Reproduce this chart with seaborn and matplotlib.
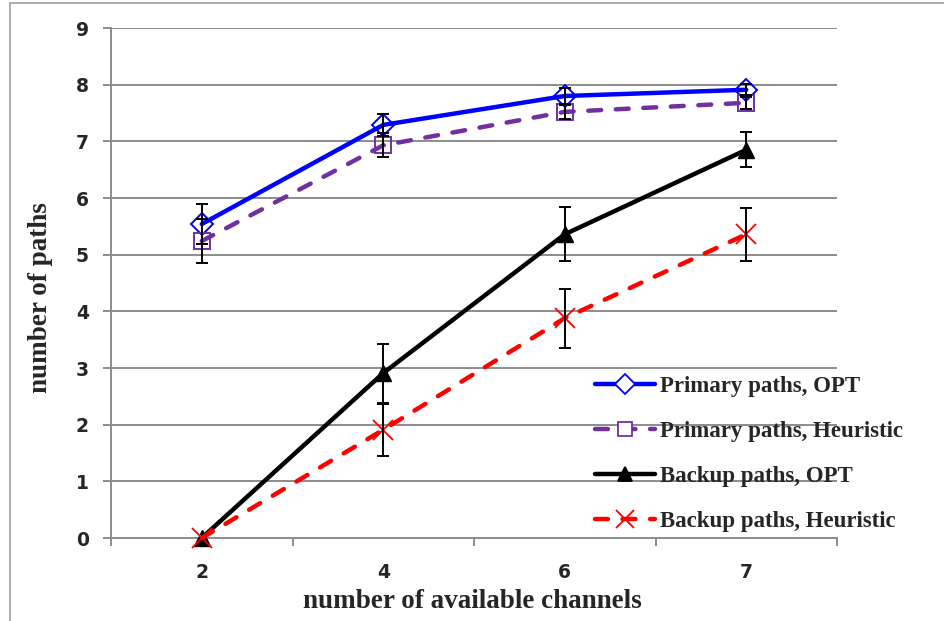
import matplotlib
matplotlib.use("Agg")
import matplotlib.pyplot as plt
from matplotlib.patches import Rectangle
import numpy as np
import pandas as pd
import seaborn as sns

# Channel counts on the x axis (treated as categories)
channels = ["2", "4", "6", "7"]

series_names = [
    "Primary paths, OPT",
    "Primary paths, Heuristic",
    "Backup paths, OPT",
    "Backup paths, Heuristic",
]

primary_opt = [5.54, 7.29, 7.80, 7.91]
primary_heur = [5.24, 6.93, 7.52, 7.68]
backup_opt = [0.0, 2.91, 5.36, 6.85]
backup_heur = [0.0, 1.91, 3.88, 5.36]

primary_opt_err = [0.35, 0.19, 0.14, 0.10]
primary_heur_err = [0.39, 0.21, 0.13, 0.11]
backup_opt_err = [0.0, 0.52, 0.48, 0.31]
backup_heur_err = [0.0, 0.46, 0.52, 0.47]

values = [primary_opt, primary_heur, backup_opt, backup_heur]
errors = [primary_opt_err, primary_heur_err, backup_opt_err, backup_heur_err]

rows = []
for name, vals, errs in zip(series_names, values, errors):
    for i, (c, v, e) in enumerate(zip(channels, vals, errs)):
        rows.append({"pos": i, "channels": c, "paths": v, "err": e, "series": name})
df = pd.DataFrame(rows)

dash = (0, (2.9, 3.3))
styles = {
    "Primary paths, OPT": dict(color="#0000ff", marker="D", ls="-", ms=11, mfc="none", mew=1.4),
    "Primary paths, Heuristic": dict(color="#7030a0", marker="s", ls=dash, ms=12, mfc="none", mew=1.4),
    "Backup paths, OPT": dict(color="#000000", marker="^", ls="-", ms=11, mfc="#000000", mew=1.0),
    "Backup paths, Heuristic": dict(color="#ff0000", marker="x", ls=dash, ms=14, mfc="#ff0000", mew=1.3),
}

sns.set_theme(style="white")
plt.rcParams["font.family"] = ["DejaVu Sans"]

fig = plt.figure(figsize=(9.45, 6.21), dpi=100)
ax = fig.add_axes([111 / 945, 1 - 538 / 621, (837 - 111) / 945, (538 - 28) / 621])

grid_color = "#8c8c8c"
ax.set_ylim(0, 9)
ax.set_xlim(-0.5, 3.5)
ax.set_yticks(range(0, 10))
for yv in range(1, 10):
    ax.axhline(yv, color=grid_color, lw=1.4, zorder=0)

for name in series_names:
    st = styles[name]
    sub = df[df["series"] == name]
    sns.lineplot(data=sub, x="pos", y="paths", ax=ax, color=st["color"],
                 linewidth=3.2, legend=False, zorder=3, clip_on=False,
                 marker=st["marker"], markersize=st["ms"],
                 markerfacecolor=st["mfc"], markeredgecolor=st["color"],
                 markeredgewidth=st["mew"], linestyle=st["ls"],
                 dash_capstyle="round", solid_capstyle="round")

# Error bars
for name in series_names:
    sub = df[(df["series"] == name) & (df["err"] > 0)]
    ax.errorbar(sub["pos"], sub["paths"], yerr=sub["err"], fmt="none",
                ecolor="black", elinewidth=1.4, capsize=4, capthick=1.4, zorder=4)

# Axes styling
for side in ("top", "right"):
    ax.spines[side].set_visible(False)
for side in ("left", "bottom"):
    ax.spines[side].set_color(grid_color)
    ax.spines[side].set_linewidth(1.4)

ax.set_xticks(np.arange(-0.5, 4.0, 1.0))
ax.set_xticklabels([])
ax.set_xticks(range(4), minor=True)
ax.set_xticklabels(channels, minor=True)
ax.tick_params(axis="x", which="major", length=6, width=1.4, color=grid_color, direction="out", bottom=True)
ax.tick_params(axis="x", which="minor", length=0, pad=18, labelsize=13.5, bottom=True)
ax.tick_params(axis="y", length=6, width=1.4, color=grid_color, direction="out", left=True, labelsize=13.5, pad=10)
for lbl in ax.get_xticklabels(minor=True) + ax.get_yticklabels():
    lbl.set_fontweight("bold")

ax.set_xlabel("")
ax.set_ylabel("")
fig.text(472 / 945, 1 - 601 / 621, "number of available channels", ha="center", va="center",
         fontsize=19.5, fontweight="bold", family=["Liberation Serif"])
fig.text(41 / 945, 1 - 298 / 621, "number of paths", ha="center", va="center", rotation=90,
         fontsize=19.5, fontweight="bold", family=["Liberation Serif"])

# Legend
handles = []
for name in series_names:
    st = styles[name]
    h = plt.Line2D([], [], color=st["color"], lw=3.2, marker=st["marker"], linestyle=st["ls"],
                   markersize=10 if st["marker"] != "x" else 13,
                   markerfacecolor="white" if st["mfc"] == "none" else st["mfc"],
                   markeredgecolor=st["color"], markeredgewidth=1.3,
                   dash_capstyle="round", solid_capstyle="round")
    handles.append(h)
leg = ax.legend(handles, series_names, loc="center left",
                bbox_to_anchor=(595 / 945, 1 - 454 / 621), bbox_transform=fig.transFigure,
                frameon=False, handlelength=2.6, handletextpad=0.25, labelspacing=1.05,
                prop={"family": "Liberation Serif", "weight": "bold", "size": 16.5},
                borderaxespad=0, borderpad=0)
leg.set_zorder(6)

# Outer chart frame
fig.patches.append(Rectangle((10 / 945, -0.05), 1.2, 1.05 - 3 / 621, transform=fig.transFigure,
                             fill=False, edgecolor="#a6a6a6", lw=1.3, zorder=0))

fig.savefig("out.png", dpi=100)
